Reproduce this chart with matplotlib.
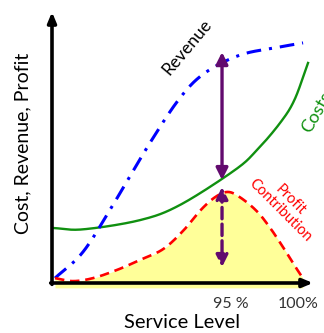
import matplotlib.pyplot as plt
import numpy as np

plt.rcParams['font.family'] = ['Lato', 'DejaVu Sans']

# curve points (service level index, value)
rev_x = [1.2, 12.5, 24.5, 39.4, 51.5, 61.5, 75.6, 90.5, 101.0]
rev_y = [1.8, 11.5, 28.8, 51.7, 68.3, 77.5, 84.1, 86.9, 88.6]

cost_x = [0.4, 12.5, 35.4, 51.5, 73.6, 82.5, 91.7, 97.5, 103.0]
cost_y = [20.3, 19.8, 23.2, 28.8, 41.7, 49.1, 59.0, 67.5, 81.2]

profit_x = [1.2, 8.4, 16.5, 26.1, 35.4, 44.7, 52.7, 59.5, 65.5, 70.8, 76.0, 82.5, 87.7, 92.9,
            96.9, 100.9]
profit_y = [1.8, 0.7, 1.8, 4.8, 8.5, 12.5, 19.2, 26.6, 31.6, 33.6, 31.4, 26.4, 20.4, 13.3,
            7.4, 1.8]

# optimum marker: revenue, cost and profit at the chosen service level
opt_x = 68.4
opt_rev = 85.2
opt_cost = 38.0
opt_profit = 35.4
opt_base = 5.9

tick_pos = [72, 99]
tick_labels = ['95 %', '100%']


def smooth(x, y, n=30):
    # Catmull-Rom spline through the points
    p = np.column_stack([x, y]).astype(float)
    p = np.vstack([2 * p[0] - p[1], p, 2 * p[-1] - p[-2]])
    out = []
    t = np.linspace(0, 1, n, endpoint=False)[:, None]
    for i in range(1, len(p) - 2):
        p0, p1, p2, p3 = p[i - 1], p[i], p[i + 1], p[i + 2]
        seg = 0.5 * (2 * p1 + (-p0 + p2) * t + (2 * p0 - 5 * p1 + 4 * p2 - p3) * t ** 2
                     + (-p0 + 3 * p1 - 3 * p2 + p3) * t ** 3)
        out.append(seg)
    out.append(p[-2][None, :])
    out = np.vstack(out)
    return out[:, 0], out[:, 1]


fig = plt.figure(figsize=(3.24, 3.33), dpi=100)
ax = fig.add_axes([52 / 324, 50 / 333, 261 / 324, 271 / 333])
ax.set_xlim(0, 105)
ax.set_ylim(0, 100)
ax.axis('off')

px, py = smooth(profit_x, profit_y)
ax.fill_between(px, py, -1.8, color='#ffff99', lw=0, clip_on=False)

cx, cy = smooth(cost_x, cost_y)
ax.plot(cx, cy, color='#109010', lw=1.7, clip_on=False)

rx, ry = smooth(rev_x, rev_y)
ax.plot(rx, ry, color='#0000ff', lw=2.2, dashes=(4.8, 2.6, 1.0, 2.6), clip_on=False)

ax.plot(px, py, color='#ff0000', lw=1.9, dashes=(3.6, 2.2), clip_on=False)

# axes as arrows
ax.annotate('', xy=(0, 1), xytext=(0, -0.005), xycoords='axes fraction',
            arrowprops=dict(arrowstyle='-|>,head_length=0.6,head_width=0.25', color='black', lw=2.6,
                            shrinkA=0, shrinkB=0))
ax.annotate('', xy=(1, 0), xytext=(-0.005, 0), xycoords='axes fraction',
            arrowprops=dict(arrowstyle='-|>,head_length=0.6,head_width=0.25', color='black', lw=2.6,
                            shrinkA=0, shrinkB=0))

purple = '#620a6e'
ax.annotate('', xy=(opt_x, opt_rev), xytext=(opt_x, opt_cost),
            arrowprops=dict(arrowstyle='<|-|>,head_length=0.7,head_width=0.35', color=purple, lw=2.4,
                            shrinkA=0, shrinkB=0))
ax.annotate('', xy=(opt_x, opt_base), xytext=(opt_x, opt_profit),
            arrowprops=dict(arrowstyle='<|-|>,head_length=0.7,head_width=0.35', color=purple, lw=2.4,
                            linestyle=(0, (3.4, 1.6)), shrinkA=0, shrinkB=0))

ax.text(54.5, 87.0, 'Revenue', rotation=50, ha='center', va='center', fontsize=12.5, color='black')
ax.text(106.5, 63, 'Costs', rotation=60, ha='center', va='center', fontsize=13, color='#109010',
        clip_on=False)
ax.text(93.7, 28.8, 'Profit\nContribution', rotation=-45, ha='center', va='center', fontsize=10.5,
        color='#ff0000', linespacing=1.0, rotation_mode='anchor')

for p, lab in zip(tick_pos, tick_labels):
    ax.text(p, -5.0, lab, ha='center', va='top', fontsize=11.5, color='#333333')

fig.text(182 / 324, 10 / 333, 'Service Level', ha='center', va='center', fontsize=14.4)
fig.text(23 / 324, 190 / 333, 'Cost, Revenue, Profit', ha='center', va='center', fontsize=14,
         rotation=90)

fig.savefig('out.png', dpi=100)
